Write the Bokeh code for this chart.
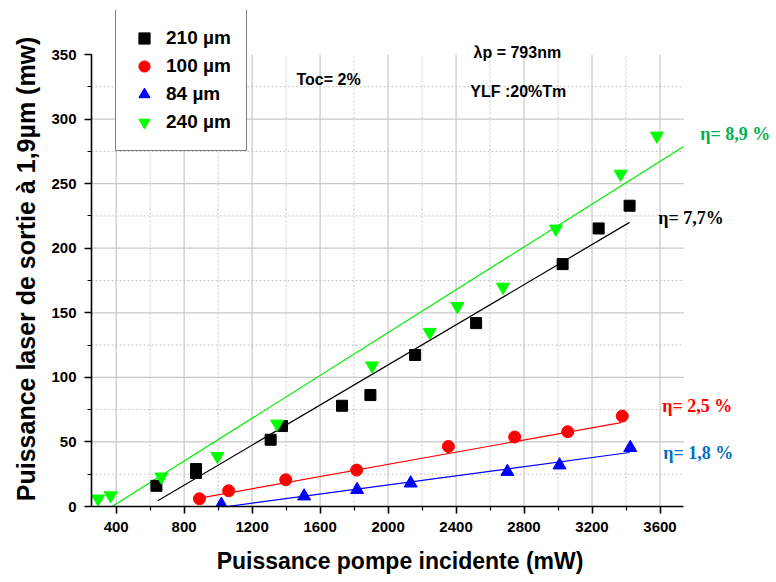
from bokeh.plotting import figure
from bokeh.models import Label, Range1d, FixedTicker, Legend
from bokeh.embed import file_html
from bokeh.resources import INLINE

# ---- data ----
x210 = [637, 870, 870, 1309, 1376, 1729, 1896, 2159, 2518, 3027, 3239, 3421]
y210 = [16, 29, 26, 51.7, 62.3, 78, 86.3, 117.3, 142, 187.7, 215.3, 232.9]

x100 = [890, 1062, 1398, 1815, 2355, 2745, 3057, 3378]
y100 = [6, 12.2, 20.7, 28.2, 46.5, 53.8, 57.9, 70]

x84 = [1019, 1506, 1818, 2133, 2702, 3009, 3425]
y84 = [1.5, 8, 13, 18, 27, 32, 45.5]

x240 = [294, 368, 666, 996, 1347, 1906, 2245, 2408, 2676, 2988, 3368, 3582]
y240 = [6, 8.5, 23, 39, 64, 109, 135, 155, 170, 215, 257.5, 287]

# fitted lines (end points)
fit210_x = [645, 3421]
fit210_y = [4.4, 220]
fit100_x = [915, 3371]
fit100_y = [7, 65]
fit84_x = [1053, 3421]
fit84_y = [0, 41.8]
fit240_x = [376, 3739]
fit240_y = [0, 278.8]

x_ticks = [400, 800, 1200, 1600, 2000, 2400, 2800, 3200, 3600]
x_minor = [600, 1000, 1400, 1800, 2200, 2600, 3000, 3400]
y_ticks = [0, 50, 100, 150, 200, 250, 300, 350]
y_minor = [25, 75, 125, 175, 225, 275, 325]

x_axis_span = (255, 3740)
y_axis_span = (0, 350)

series_labels = ["210 µm", "100 µm", "84 µm", "240 µm"]
eta_labels = ["η= 8,9 %", "η= 7,7%", "η= 2,5 %", "η= 1,8 %"]
x_title = "Puissance pompe incidente (mW)"
y_title = "Puissance laser de sortie à 1,9µm (mw)"

SANS = "Liberation Sans"
SERIF = "Liberation Serif"
NBSP = "\u00a0"

W, H = 772, 578
LEFT, BOTTOM, TOP = 91, 72, 10
# extend the data ranges beyond the axes so that the annotations (legend, text)
# sit inside the plotting frame; the axes themselves stop at their bounds.
x_scale = (683.3 - LEFT) / (x_axis_span[1] - x_axis_span[0])
y_scale = ((H - BOTTOM) - 54.0) / (y_axis_span[1] - y_axis_span[0])
x_end = x_axis_span[0] + (W - LEFT) / x_scale
y_end = y_axis_span[0] + (H - BOTTOM - TOP) / y_scale

p = figure(width=W, height=H, output_backend="svg", toolbar_location=None,
           x_range=Range1d(x_axis_span[0], x_end), y_range=Range1d(y_axis_span[0], y_end),
           min_border_left=LEFT, min_border_right=0, min_border_top=TOP,
           min_border_bottom=BOTTOM)
p.outline_line_color = None
p.background_fill_color = "white"
p.xgrid.visible = False
p.ygrid.visible = False

# axes
for ax in (p.xaxis[0], p.yaxis[0]):
    ax.axis_line_width = 1.6
    ax.axis_line_color = "black"
    ax.major_tick_line_width = 1.6
    ax.minor_tick_line_width = 1.2
    ax.major_tick_out = 7
    ax.major_tick_in = 0
    ax.minor_tick_out = 4
    ax.minor_tick_in = 0
    ax.major_label_text_font = SANS
    ax.major_label_text_font_style = "bold"
    ax.major_label_text_font_size = "15px"
    ax.major_label_text_color = "black"
    ax.axis_label_text_font = SANS
    ax.axis_label_text_font_style = "bold"
    ax.axis_label_text_color = "black"
    ax.major_label_standoff = 8

p.xaxis[0].bounds = x_axis_span
p.yaxis[0].bounds = y_axis_span
p.xaxis[0].ticker = FixedTicker(ticks=x_ticks, minor_ticks=x_minor)
p.yaxis[0].ticker = FixedTicker(ticks=y_ticks, minor_ticks=y_minor)
# axis titles are centred on the whole frame; trailing no-break spaces move
# them back towards the centre of the drawn axes, as in the reference
p.xaxis[0].axis_label = x_title + NBSP * 10
p.yaxis[0].axis_label = y_title + NBSP * 3
p.xaxis[0].axis_label_text_font_size = "23px"
p.yaxis[0].axis_label_text_font_size = "25px"
p.xaxis[0].axis_label_standoff = 13
p.yaxis[0].axis_label_standoff = 8

# grid lines limited to the axes' extent
gx_major = [t for t in x_ticks]
gy_major = [t for t in y_ticks if 0 < t < y_axis_span[1]]
p.segment(x0=x_minor, y0=[y_axis_span[0]] * len(x_minor), x1=x_minor, y1=[y_axis_span[1]] * len(x_minor),
          line_color="#c4c4c4", line_width=1, line_dash="2 2")
p.segment(x0=[x_axis_span[0]] * len(y_minor), y0=y_minor, x1=[x_axis_span[1]] * len(y_minor), y1=y_minor,
          line_color="#c4c4c4", line_width=1, line_dash="2 2")
p.segment(x0=gx_major, y0=[y_axis_span[0]] * len(gx_major), x1=gx_major, y1=[y_axis_span[1]] * len(gx_major),
          line_color="#c8c8c8", line_width=1.2)
p.segment(x0=[x_axis_span[0]] * len(gy_major), y0=gy_major, x1=[x_axis_span[1]] * len(gy_major), y1=gy_major,
          line_color="#c8c8c8", line_width=1.2)

# fit lines
p.line(fit240_x, fit240_y, line_color="#00ee00", line_width=1.2)
p.line(fit210_x, fit210_y, line_color="black", line_width=1.2)
p.line(fit100_x, fit100_y, line_color="#ff0000", line_width=1.2)
p.line(fit84_x, fit84_y, line_color="#0000ff", line_width=1.2)

# markers
r210 = p.scatter(x210, y210, marker="square", size=11, fill_color="black", line_color="black")
r100 = p.scatter(x100, y100, marker="circle", size=12, fill_color="#ff0000", line_color="#ff0000")
r84 = p.scatter(x84, y84, marker="triangle", size=13, fill_color="#0000ff", line_color="#0000ff")
r240 = p.scatter(x240, y240, marker="inverted_triangle", size=13, fill_color="#00ff00", line_color="#00ff00")

legend = Legend(items=[(series_labels[0], [r210]), (series_labels[1], [r100]),
                       (series_labels[2], [r84]), (series_labels[3], [r240])],
                location=(24, 355), orientation="vertical")
legend.label_text_font = SANS
legend.label_text_font_style = "bold"
legend.label_text_font_size = "19px"
legend.label_text_color = "black"
legend.border_line_color = "black"
legend.border_line_width = 1.2
legend.background_fill_alpha = 1
legend.padding = 14
legend.margin = 0
legend.glyph_width = 28
legend.glyph_height = 28
legend.label_height = 28
legend.label_width = 66
legend.label_standoff = 8
legend.spacing = 0
p.add_layout(legend, "center")

# annotations
def lab(x, y, t, font=SANS, size="16px", color="black"):
    p.add_layout(Label(x=x, y=y, text=t, text_font=font, text_font_style="bold",
                       text_font_size=size, text_color=color,
                       text_baseline="middle", text_align="left"))

lab(1461, 330.5, "Toc=  2%")
lab(2503, 351.4, "λp = 793nm")
lab(2484, 321.2, "YLF :20%Tm")
lab(3837, 288.7, eta_labels[0], SERIF, "18px", "#00b050")
lab(3590, 223.6, eta_labels[1], SERIF, "18px", "black")
lab(3613, 77.8, eta_labels[2], SERIF, "18px", "#ff0000")
lab(3619, 41.6, eta_labels[3], SERIF, "18px", "#0070c0")

open("out.html", "w").write(file_html(p, INLINE))
